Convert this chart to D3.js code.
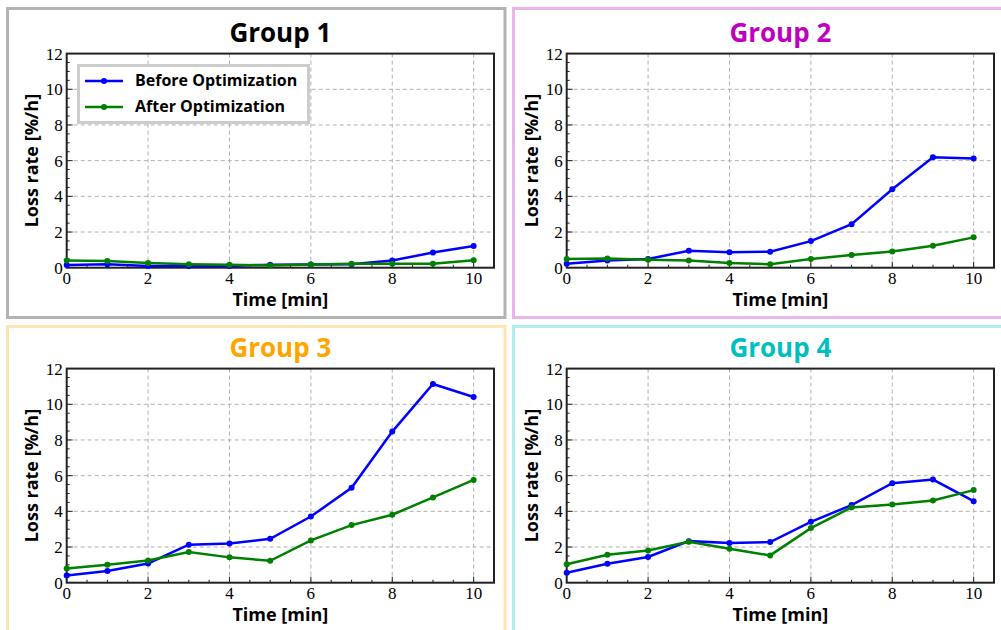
<!DOCTYPE html>
<html lang="en">
    <head>
        <meta charset="utf-8">
        <title>Loss rate before and after optimization</title>
        <script type="text/javascript" src="https://cdn.jsdelivr.net/npm/d3@7/dist/d3.min.js"></script>
        <style>
            body { margin: 0; background: #fff; }
            svg { display: block; }
        </style>
    </head>

    <body>
        <script type="text/javascript">

            // time axis (minutes)
            var times = [0, 1, 2, 3, 4, 5, 6, 7, 8, 9, 10];

            // loss rate [%/h]
            var group1_before = [0.15, 0.2, 0.1, 0.1, 0.1, 0.17, 0.18, 0.2, 0.4, 0.85, 1.22];
            var group1_after  = [0.4, 0.37, 0.27, 0.2, 0.17, 0.13, 0.18, 0.22, 0.22, 0.22, 0.42];
            var group2_before = [0.22, 0.4, 0.49, 0.95, 0.86, 0.9, 1.49, 2.44, 4.4, 6.19, 6.12];
            var group2_after  = [0.49, 0.52, 0.45, 0.4, 0.26, 0.19, 0.49, 0.71, 0.91, 1.23, 1.7];
            var group3_before = [0.41, 0.65, 1.08, 2.13, 2.2, 2.46, 3.71, 5.32, 8.47, 11.14, 10.41];
            var group3_after  = [0.8, 1.0, 1.25, 1.72, 1.42, 1.23, 2.37, 3.23, 3.81, 4.78, 5.76];
            var group4_before = [0.56, 1.06, 1.44, 2.33, 2.22, 2.28, 3.41, 4.35, 5.58, 5.78, 4.57];
            var group4_after  = [1.03, 1.57, 1.81, 2.29, 1.9, 1.53, 3.06, 4.22, 4.38, 4.61, 5.19];

            var group_names = ["Group 1", "Group 2", "Group 3", "Group 4"];
            var series_names = ["Before Optimization", "After Optimization"];
            var x_ticks = [0, 2, 4, 6, 8, 10];
            var y_ticks = [0, 2, 4, 6, 8, 10, 12];

            var title_colors = ["#000000", "#bf00bf", "#ffa500", "#00bfbf"];
            var border_colors = ["#b3b3b3", "#eab5ea", "#ffe4b3", "#b3ecec"];
            var line_colors = ["#0000ff", "#008000"];

            var groups = [
                [group1_before, group1_after],
                [group2_before, group2_after],
                [group3_before, group3_after],
                [group4_before, group4_after]
            ];

            var sans = "'Open Sans', 'DejaVu Sans', sans-serif";
            var serif = "'Liberation Serif', 'DejaVu Serif', serif";

            var svg = d3.select("body")
                .append("svg")
                .attr("width", 1001)
                .attr("height", 630);

            // plot area inside each panel
            var plot_left = 66.7, plot_right = 494, plot_top = 53.6, plot_bottom = 267.7;

            var x = d3.scaleLinear().domain([0, 10.5]).range([plot_left, plot_right]);
            var y = d3.scaleLinear().domain([0, 12]).range([plot_bottom, plot_top]);

            function draw_panel(k) {
                var col = k % 2, row = Math.floor(k / 2);
                var g = svg.append("g")
                    .attr("transform", "translate(" + (col * 500) + "," + (row * 315) + ")");

                // coloured frame round the panel
                svg.append("rect")
                    .attr("x", 7.5 + col * 506)
                    .attr("y", 8.5 + row * 318)
                    .attr("width", 497.5)
                    .attr("height", 309)
                    .attr("fill", "none")
                    .attr("stroke", border_colors[k])
                    .attr("stroke-width", 3);

                // dashed grid
                g.append("g")
                    .selectAll("line")
                    .data(x_ticks.slice(1))
                    .enter()
                    .append("line")
                    .attr("x1", function(d) { return x(d); })
                    .attr("x2", function(d) { return x(d); })
                    .attr("y1", plot_top)
                    .attr("y2", plot_bottom)
                    .attr("stroke", "#b0b0b0")
                    .attr("stroke-width", 1)
                    .attr("stroke-dasharray", "4,3");
                g.append("g")
                    .selectAll("line")
                    .data(y_ticks.slice(1, -1))
                    .enter()
                    .append("line")
                    .attr("x1", plot_left)
                    .attr("x2", plot_right)
                    .attr("y1", function(d) { return y(d); })
                    .attr("y2", function(d) { return y(d); })
                    .attr("stroke", "#b0b0b0")
                    .attr("stroke-width", 1)
                    .attr("stroke-dasharray", "4,3");

                // minor ticks every 0.5 unit
                var x_minor = d3.range(0.5, 10.5, 0.5);
                var y_minor = d3.range(0.5, 12, 0.5);
                g.append("g")
                    .selectAll("line")
                    .data(x_minor)
                    .enter()
                    .append("line")
                    .attr("x1", function(d) { return x(d); })
                    .attr("x2", function(d) { return x(d); })
                    .attr("y1", plot_bottom)
                    .attr("y2", function(d) { return plot_bottom - (d % 2 === 0 ? 6 : 3); })
                    .attr("stroke", "#222")
                    .attr("stroke-width", 1);
                g.append("g")
                    .selectAll("line")
                    .data(y_minor)
                    .enter()
                    .append("line")
                    .attr("x1", plot_left)
                    .attr("x2", function(d) { return plot_left + (d % 2 === 0 ? 6 : 3); })
                    .attr("y1", function(d) { return y(d); })
                    .attr("y2", function(d) { return y(d); })
                    .attr("stroke", "#222")
                    .attr("stroke-width", 1);

                // axis frame
                g.append("rect")
                    .attr("x", plot_left)
                    .attr("y", plot_top)
                    .attr("width", plot_right - plot_left)
                    .attr("height", plot_bottom - plot_top)
                    .attr("fill", "none")
                    .attr("stroke", "#222")
                    .attr("stroke-width", 2);

                // tick labels
                g.append("g")
                    .selectAll("text")
                    .data(x_ticks)
                    .enter()
                    .append("text")
                    .attr("x", function(d) { return x(d); })
                    .attr("y", plot_bottom + 16)
                    .attr("text-anchor", "middle")
                    .style("font-family", serif)
                    .style("font-size", "17px")
                    .text(function(d) { return d; });
                g.append("g")
                    .selectAll("text")
                    .data(y_ticks)
                    .enter()
                    .append("text")
                    .attr("x", plot_left - 4)
                    .attr("y", function(d) { return y(d) + 6; })
                    .attr("text-anchor", "end")
                    .style("font-family", serif)
                    .style("font-size", "17px")
                    .text(function(d) { return d; });

                // axis labels and title
                g.append("text")
                    .attr("x", (plot_left + plot_right) / 2)
                    .attr("y", 306)
                    .attr("text-anchor", "middle")
                    .style("font-family", sans)
                    .style("font-weight", "bold")
                    .style("font-size", "18px")
                    .text("Time [min]");
                g.append("text")
                    .attr("transform", "translate(38," + ((plot_top + plot_bottom) / 2) + ") rotate(-90)")
                    .attr("text-anchor", "middle")
                    .style("font-family", sans)
                    .style("font-weight", "bold")
                    .style("font-size", "18px")
                    .text("Loss rate [%/h]");
                g.append("text")
                    .attr("x", (plot_left + plot_right) / 2)
                    .attr("y", 42)
                    .attr("text-anchor", "middle")
                    .style("font-family", sans)
                    .style("font-weight", "bold")
                    .style("font-size", "26px")
                    .attr("fill", title_colors[k])
                    .text(group_names[k]);

                // the two series
                var line = d3.line()
                    .x(function(d, i) { return x(times[i]); })
                    .y(function(d) { return y(d); });

                groups[k].forEach(function(values, s) {
                    g.append("path")
                        .datum(values)
                        .attr("d", line)
                        .attr("fill", "none")
                        .attr("stroke", line_colors[s])
                        .attr("stroke-width", 2.5);
                    g.append("g")
                        .selectAll("circle")
                        .data(values)
                        .enter()
                        .append("circle")
                        .attr("cx", function(d, i) { return x(times[i]); })
                        .attr("cy", function(d) { return y(d); })
                        .attr("r", 3)
                        .attr("fill", line_colors[s]);
                });

                // legend only in the first panel
                if (k === 0) {
                    var leg = g.append("g");
                    leg.append("rect")
                        .attr("x", 78.5)
                        .attr("y", 65.5)
                        .attr("width", 230)
                        .attr("height", 57)
                        .attr("fill", "#fff")
                        .attr("stroke", "#cccccc")
                        .attr("stroke-width", 3);
                    series_names.forEach(function(name, s) {
                        var ly = 81 + s * 26;
                        leg.append("line")
                            .attr("x1", 85).attr("x2", 123)
                            .attr("y1", ly).attr("y2", ly)
                            .attr("stroke", line_colors[s])
                            .attr("stroke-width", 2.5);
                        leg.append("circle")
                            .attr("cx", 104).attr("cy", ly).attr("r", 3)
                            .attr("fill", line_colors[s]);
                        leg.append("text")
                            .attr("x", 135)
                            .attr("y", ly + 5)
                            .style("font-family", sans)
                            .style("font-weight", "bold")
                            .style("font-size", "16px")
                            .text(name);
                    });
                }
            }

            for (var k = 0; k < 4; k++) {
                draw_panel(k);
            }
        </script>
    </body>
</html>
